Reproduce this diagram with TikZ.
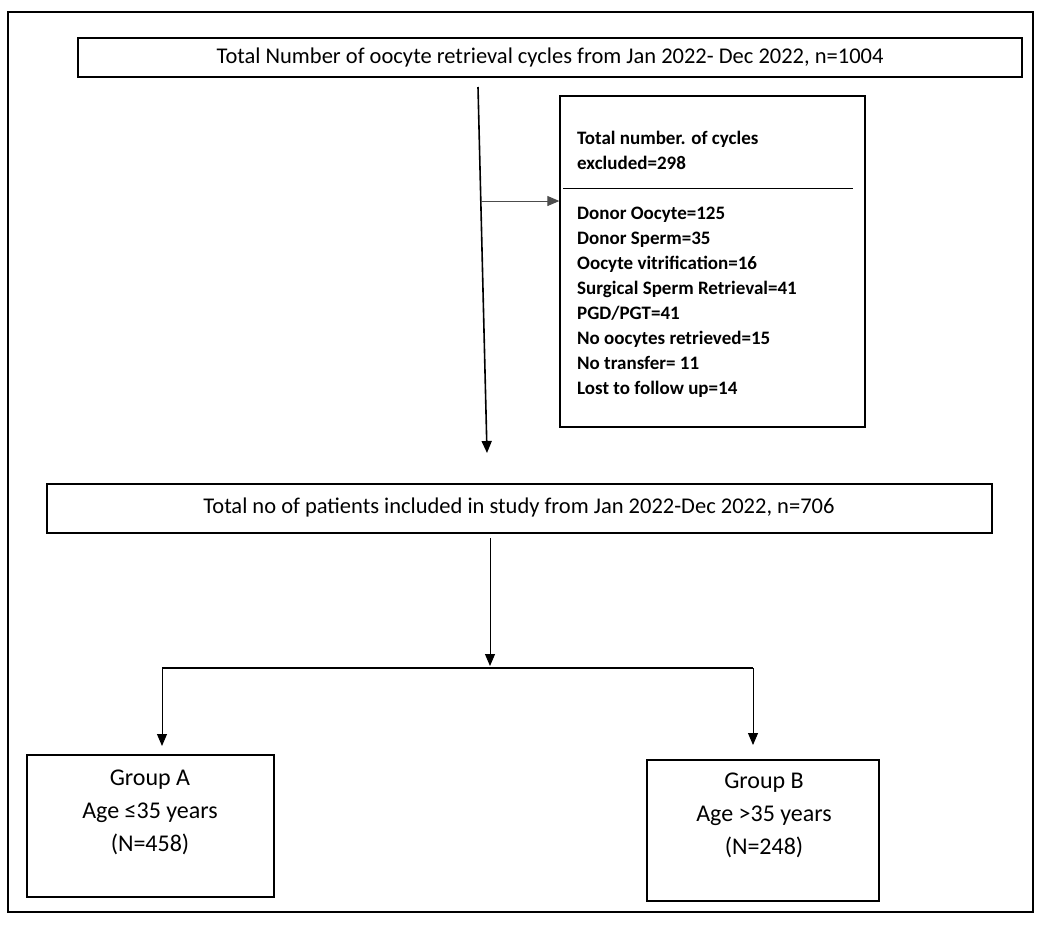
\documentclass[tikz,border=0pt]{standalone}
\usepackage{fontspec}
\setmainfont{Carlito}
\usetikzlibrary{arrows.meta}
\begin{document}
\begin{tikzpicture}[x=1pt,y=-1pt,
  box/.style={draw=black, line width=1.3pt, inner sep=0pt},
  conn/.style={draw=black, line width=1pt},
  arr/.style={conn, -{Triangle[length=12pt,width=10pt]}},
  grp/.style={font=\fontsize{24}{33}\selectfont, align=center},
  exc/.style={font=\bfseries\fontsize{19}{25}\selectfont, align=left, anchor=base west, inner sep=0pt}]
\useasboundingbox (0,0) rectangle (1046,924);
\draw[line width=1.5pt] (8,12) rectangle (1033,912);
% top box
\node[box, minimum width=944pt, minimum height=39pt] (top) at (550,57.5) {};
\node[font=\fontsize{22.5}{27}\selectfont] (toptext) at (550,57) {Total Number of oocyte retrieval cycles from Jan 2022- Dec 2022, n=1004};
% exclusion box
\node[box, minimum width=305pt, minimum height=331pt] (excl) at (712.5,261.5) {};
\node[exc] (exhead) at (577,169) {Total number. of cycles\\excluded=298};
\coordinate (sepL) at (563,188);
\coordinate (sepR) at (853,188);
\draw[conn] (sepL) -- (sepR);
\node[exc] (exlist) at (577,394) {Donor Oocyte=125\\Donor Sperm=35\\Oocyte vitrification=16\\Surgical Sperm Retrieval=41\\PGD/PGT=41\\No oocytes retrieved=15\\No transfer= 11\\Lost to follow up=14};
% middle box
\node[box, minimum width=945pt, minimum height=49pt] (mid) at (519.5,508.5) {};
\node[font=\fontsize{22.5}{27}\selectfont] (midtext) at (519,507) {Total no of patients included in study from Jan 2022-Dec 2022, n=706};
% main arrow
\coordinate (a1) at (478,87);
\coordinate (a2) at (487,453);
\draw[arr, line width=1.6pt] (a1) -- (a2);
\coordinate (b1) at (481,201);
\draw[arr, draw=black!70] (b1) -- (excl.west |- b1);
% split
\coordinate (s0) at (490,538);
\coordinate (s1) at (490,666);
\draw[arr] (s0) -- (s1);
\coordinate (hl) at (162,668);
\coordinate (hr) at (753,668);
\draw[conn, line width=1.5pt] (hl) -- (hr);
% group boxes
\node[box, minimum width=247pt, minimum height=142pt] (ga) at (150.5,826) {};
\node[grp] (gatext) at (150,812) {Group A\\Age ≤35 years\\(N=458)};
\node[box, minimum width=232pt, minimum height=141pt] (gb) at (763,830.5) {};
\node[grp] (gbtext) at (764,815) {Group B\\Age >35 years\\(N=248)};
\coordinate (ha) at (162,746);
\coordinate (hb) at (753,745);
\draw[arr] (hl) -- (ha);
\draw[arr] (hr) -- (hb);
\end{tikzpicture}
\end{document}
